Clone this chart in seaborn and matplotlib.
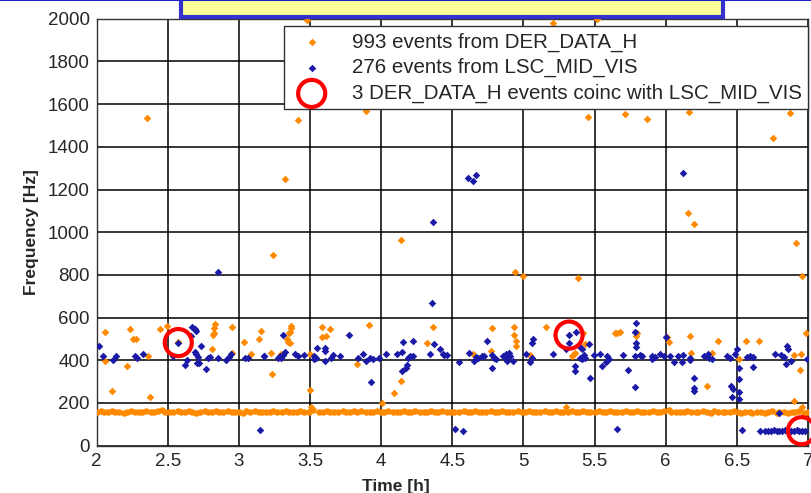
import matplotlib
matplotlib.use("Agg")
import matplotlib.pyplot as plt
from matplotlib.patches import Rectangle
from matplotlib.lines import Line2D
import pandas as pd
import seaborn as sns

# DER_DATA_H events: the dense line near 160 Hz
band_t = [2.00, 2.03, 2.05, 2.08, 2.11, 2.13, 2.16, 2.19, 2.21, 2.24,
          2.27, 2.30, 2.32, 2.35, 2.38, 2.40, 2.43, 2.46, 2.48, 2.51,
          2.54, 2.57, 2.59, 2.62, 2.65, 2.67, 2.70, 2.73, 2.76, 2.78,
          2.81, 2.84, 2.86, 2.89, 2.92, 2.95, 2.97, 3.00, 3.03, 3.05,
          3.08, 3.11, 3.14, 3.16, 3.19, 3.22, 3.24, 3.27, 3.30, 3.33,
          3.35, 3.38, 3.41, 3.43, 3.46, 3.49, 3.52, 3.56, 3.59, 3.62,
          3.64, 3.67, 3.70, 3.73, 3.75, 3.78, 3.81, 3.83, 3.86, 3.89,
          3.92, 3.94, 3.97, 4.00, 4.02, 4.05, 4.08, 4.11, 4.13, 4.16,
          4.19, 4.21, 4.24, 4.27, 4.30, 4.32, 4.35, 4.38, 4.40, 4.43,
          4.46, 4.49, 4.51, 4.55, 4.58, 4.61, 4.63, 4.66, 4.69, 4.71,
          4.74, 4.77, 4.80, 4.82, 4.85, 4.88, 4.90, 4.93, 4.96, 4.99,
          5.01, 5.04, 5.07, 5.09, 5.12, 5.15, 5.18, 5.20, 5.23, 5.26,
          5.28, 5.31, 5.34, 5.37, 5.39, 5.42, 5.45, 5.47, 5.50, 5.53,
          5.56, 5.58, 5.61, 5.64, 5.66, 5.69, 5.72, 5.75, 5.77, 5.80,
          5.83, 5.85, 5.88, 5.91, 5.94, 5.96, 5.99, 6.02, 6.04, 6.07,
          6.10, 6.13, 6.15, 6.18, 6.21, 6.23, 6.26, 6.29, 6.32, 6.34,
          6.37, 6.40, 6.42, 6.45, 6.48, 6.51, 6.53, 6.56, 6.59, 6.61,
          6.64, 6.67, 6.70, 6.72, 6.75, 6.78, 6.80, 6.83, 6.86, 6.89,
          6.91, 6.94, 6.97, 7.00]
band_f = [158, 161, 156, 159, 162, 157, 160, 155, 159, 162,
          157, 160, 158, 163, 156, 159, 161, 166, 158, 160,
          156, 162, 159, 157, 161, 158, 155, 160, 163, 157,
          159, 161, 156, 158, 162, 157, 160, 158, 155, 161,
          158, 163, 156, 159, 160, 157, 161, 158, 156, 162,
          159, 157, 160, 162, 156, 158, 165, 159, 157, 161,
          158, 160, 156, 162, 159, 157, 161, 158, 163, 156,
          160, 158, 161, 157, 159, 162, 156, 160, 158, 161,
          157, 159, 162, 156, 160, 158, 161, 157, 159, 163,
          158, 156, 160, 158, 162, 157, 159, 161, 156, 160,
          158, 162, 157, 159, 161, 156, 160, 158, 162, 157,
          159, 161, 156, 160, 158, 163, 157, 159, 161, 156,
          160, 158, 162, 157, 159, 161, 156, 160, 158, 162,
          157, 159, 161, 156, 160, 158, 163, 157, 159, 161,
          156, 160, 158, 162, 157, 159, 161, 166, 158, 160,
          157, 159, 162, 156, 160, 158, 161, 157, 155, 162,
          158, 160, 156, 159, 162, 157, 154, 160, 158, 152,
          156, 160, 154, 158, 162, 152, 157, 160, 155, 159,
          156, 161, 153, 158]

# DER_DATA_H events away from the line
der_t = [2.356, 3.241, 3.323, 3.417, 3.478, 3.890, 4.136, 5.210, 5.520, 5.451,
         5.711, 5.869, 6.162, 6.872, 6.751, 6.155, 6.197, 6.916, 6.958, 4.944,
         4.994, 5.382,
         2.058, 2.238, 2.257, 2.276, 2.444, 2.498, 2.362, 2.058, 2.215, 2.105,
         2.378, 2.572, 2.830, 2.827, 2.824, 2.820, 2.954, 2.810, 2.954, 3.035,
         3.157, 3.140, 3.087, 3.363, 3.368, 3.360, 3.355, 3.335, 3.347, 3.358,
         3.227, 3.297, 3.234, 3.503, 3.503, 3.507, 3.585, 3.639, 3.613, 3.585,
         3.912, 3.828, 4.136, 4.091, 4.003, 4.321, 4.366, 4.647, 4.777, 4.934,
         4.934, 4.950, 4.950, 4.770, 5.043, 5.156, 5.420, 5.436, 5.343, 5.355,
         5.366, 5.642, 5.296, 5.657, 5.680, 5.790, 5.797, 6.008, 6.020, 6.172,
         6.179, 6.325, 6.367, 6.290, 6.512, 6.564, 6.658, 6.899, 6.950, 6.946,
         6.986, 6.899, 6.958]
der_f = [1535, 895, 1250, 1525, 1995, 1570, 965, 1978, 1998, 1540,
         1554, 1528, 1563, 1559, 1440, 1090, 1040, 950, 795, 815,
         795, 785,
         534, 545, 501, 501, 545, 562, 420, 395, 373, 256,
         227, 487, 569, 550, 526, 519, 557, 453, 433, 486,
         539, 501, 428, 561, 550, 534, 526, 498, 487, 479,
         433, 430, 336, 430, 261, 183, 557, 545, 514, 508,
         567, 383, 303, 248, 199, 480, 557, 428, 550, 557,
         518, 489, 466, 443, 425, 558, 526, 475, 420, 430,
         436, 529, 183, 529, 532, 514, 526, 508, 485, 514,
         433, 433, 490, 280, 405, 490, 490, 425, 430, 355,
         529, 211, 180]

# LSC_MID_VIS events
lsc_t = [2.018, 2.042, 2.112, 2.135, 2.269, 2.287, 2.327, 2.537, 2.572, 2.673,
         2.690, 2.697, 2.666, 2.732, 2.690, 2.701, 2.713, 2.706, 2.720, 2.620,
         2.637, 2.766, 2.783, 2.799, 2.853, 2.911, 2.930, 2.946, 3.040, 3.063,
         3.173,
         3.180, 3.274, 3.286, 3.297, 3.309, 3.326, 3.313, 3.395, 3.413, 3.455,
         3.526, 3.531, 3.543, 3.550, 3.604, 3.604, 3.604, 3.648, 3.660, 3.708,
         3.776, 3.835, 3.870, 3.896, 3.924, 3.940, 3.928, 3.987, 4.034, 4.111,
         4.146, 4.153, 4.223, 4.144, 4.174, 4.181, 4.186, 4.202, 4.221, 4.341,
         4.369, 4.416, 4.437, 4.360,
         4.443, 4.466, 4.548, 4.618, 4.653, 4.665, 4.683, 4.707, 4.723, 4.747,
         4.782, 4.794, 4.810, 4.777, 4.857, 4.876, 4.888, 4.899, 4.904, 4.927,
         4.888, 5.016, 5.046, 5.063, 5.070, 5.063, 5.210, 5.297, 5.321, 5.373,
         5.321, 5.390, 5.413, 5.425, 5.397, 5.413, 5.430, 5.366, 5.366, 5.459,
         5.467, 5.495, 5.537, 5.589, 5.600, 5.577, 5.551,
         5.790, 5.785, 5.790, 5.790, 5.703, 5.785, 5.820, 5.832, 5.738, 5.785,
         5.907, 5.907, 5.926, 5.961, 5.985, 6.003, 6.032, 6.062, 6.090, 6.114,
         6.125, 6.172, 6.172, 6.200, 6.200, 6.200, 6.266, 6.297, 6.306, 6.325,
         6.430, 6.454, 6.484, 6.503, 6.517, 6.512, 6.461, 6.470, 6.465, 6.512,
         6.512, 6.571, 6.594, 6.611, 6.611, 6.765, 6.812, 6.829, 6.852, 6.859,
         6.845, 6.880, 6.995,
         3.148, 4.520, 4.576, 5.655, 6.540, 6.660, 6.700, 6.720, 6.740, 6.760,
         6.780, 6.800, 6.820, 6.840, 6.860, 6.880, 6.900, 6.920, 6.940, 6.960,
         6.980, 6.797,
         2.855, 4.361, 4.613, 4.649, 4.668, 6.120]
lsc_f = [468, 420, 401, 420, 420, 409, 428, 420, 480, 557,
         545, 535, 514, 468, 440, 428, 417, 389, 386, 378,
         401, 358, 409, 417, 413, 401, 417, 428, 413, 409,
         421,
         420, 409, 420, 413, 425, 441, 520, 428, 420, 425,
         420, 405, 413, 459, 459, 443, 398, 409, 423, 420,
         518, 409, 428, 398, 413, 407, 298, 413, 428, 428,
         437, 486, 492, 351, 362, 378, 409, 420, 420, 428,
         474, 452, 428, 670,
         425, 425, 393, 433, 398, 417, 409, 420, 420, 492,
         425, 413, 405, 362, 420, 430, 409, 433, 420, 398,
         398, 428, 393, 409, 498, 479, 428, 451, 518, 533,
         479, 466, 451, 425, 413, 405, 409, 373, 351, 476,
         318, 425, 430, 420, 405, 390, 373,
         576, 534, 479, 462, 425, 420, 425, 420, 355, 274,
         420, 405, 417, 428, 420, 508, 420, 393, 420, 393,
         425, 413, 401, 316, 269, 258, 420, 430, 413, 405,
         420, 409, 430, 451, 362, 312, 280, 265, 228, 252,
         218, 417, 420, 417, 367, 428, 425, 417, 466, 451,
         383, 398, 405,
         75, 77, 69, 77, 73, 70, 70, 70, 70, 72,
         70, 70, 70, 72, 70, 70, 70, 72, 70, 70,
         70, 152,
         815, 1046, 1254, 1242, 1270, 1276]

# coincident events (red circles)
coinc_t = [2.574, 5.321, 6.955]
coinc_f = [483, 518, 70]

x_ticks = [2, 2.5, 3, 3.5, 4, 4.5, 5, 5.5, 6, 6.5, 7]
x_labels = ["2", "2.5", "3", "3.5", "4", "4.5", "5", "5.5", "6", "6.5", "7"]
y_ticks = [0, 200, 400, 600, 800, 1000, 1200, 1400, 1600, 1800, 2000]

labels = ["993 events from DER_DATA_H",
          "276 events from LSC_MID_VIS",
          "3 DER_DATA_H events coinc with LSC_MID_VIS"]

sns.set_style("white")
plt.rcParams["font.family"] = ["Liberation Sans", "DejaVu Sans"]

orange = "#FF8A00"
blue = "#1A1AA6"

band = pd.DataFrame({"t": band_t, "f": band_f})
der = pd.DataFrame({"t": der_t, "f": der_f})
lsc = pd.DataFrame({"t": lsc_t, "f": lsc_f})
coinc = pd.DataFrame({"t": coinc_t, "f": coinc_f})

fig = plt.figure(figsize=(8.12, 4.93), dpi=100)
ax = fig.add_axes([0.119, 0.096, 0.876, 0.866])

# the packed 160 Hz events overlap into a solid stripe
sns.scatterplot(data=band, x="t", y="f", marker="o", s=22, color=orange,
                linewidth=0, ax=ax, zorder=3)
sns.scatterplot(data=der, x="t", y="f", marker="D", s=15, color=orange,
                linewidth=0, ax=ax, label=labels[0], zorder=3)
sns.scatterplot(data=lsc, x="t", y="f", marker="D", s=15, color=blue,
                linewidth=0, ax=ax, label=labels[1], zorder=4)
sns.scatterplot(data=coinc, x="t", y="f", marker="o", s=380,
                facecolor="none", edgecolor="#FF0000", linewidth=3,
                ax=ax, label=labels[2], zorder=5, clip_on=False)

ax.set_xlim(2, 7)
ax.set_ylim(0, 2000)
ax.set_xticks(x_ticks)
ax.set_xticklabels(x_labels)
ax.set_yticks(y_ticks)
ax.tick_params(length=0, labelsize=13.5, pad=5)
ax.grid(True, color="black", linewidth=1.1)
ax.set_axisbelow(True)
for sp in ax.spines.values():
    sp.set_color("#333333")
    sp.set_linewidth(1.0)

ax.set_xlabel("Time [h]", fontsize=12.5, fontweight="bold")
ax.xaxis.set_label_coords(0.42, -0.079)
ax.set_ylabel("Frequency [Hz]", fontsize=12.5, fontweight="bold", labelpad=6)

leg = ax.legend(loc="upper right", bbox_to_anchor=(1.0, 0.982),
                borderaxespad=0, fancybox=False, framealpha=1,
                edgecolor="#333333", fontsize=14.8, labelspacing=0.31,
                handlelength=2.1, handletextpad=0.9, borderpad=0.3)
leg.get_frame().set_linewidth(1.0)

# title box cut off at the top of the slide
fig.add_artist(Line2D([0, 1], [0.999, 0.999], transform=fig.transFigure,
                      color="#2222CC", linewidth=1.5))
fig.add_artist(Rectangle((181 / 812, 1 - 17 / 493), 542 / 812, 0.05,
                         transform=fig.transFigure, facecolor="#FFFF99",
                         edgecolor="#3333CC", linewidth=3))

fig.savefig("out.png", dpi=100)
